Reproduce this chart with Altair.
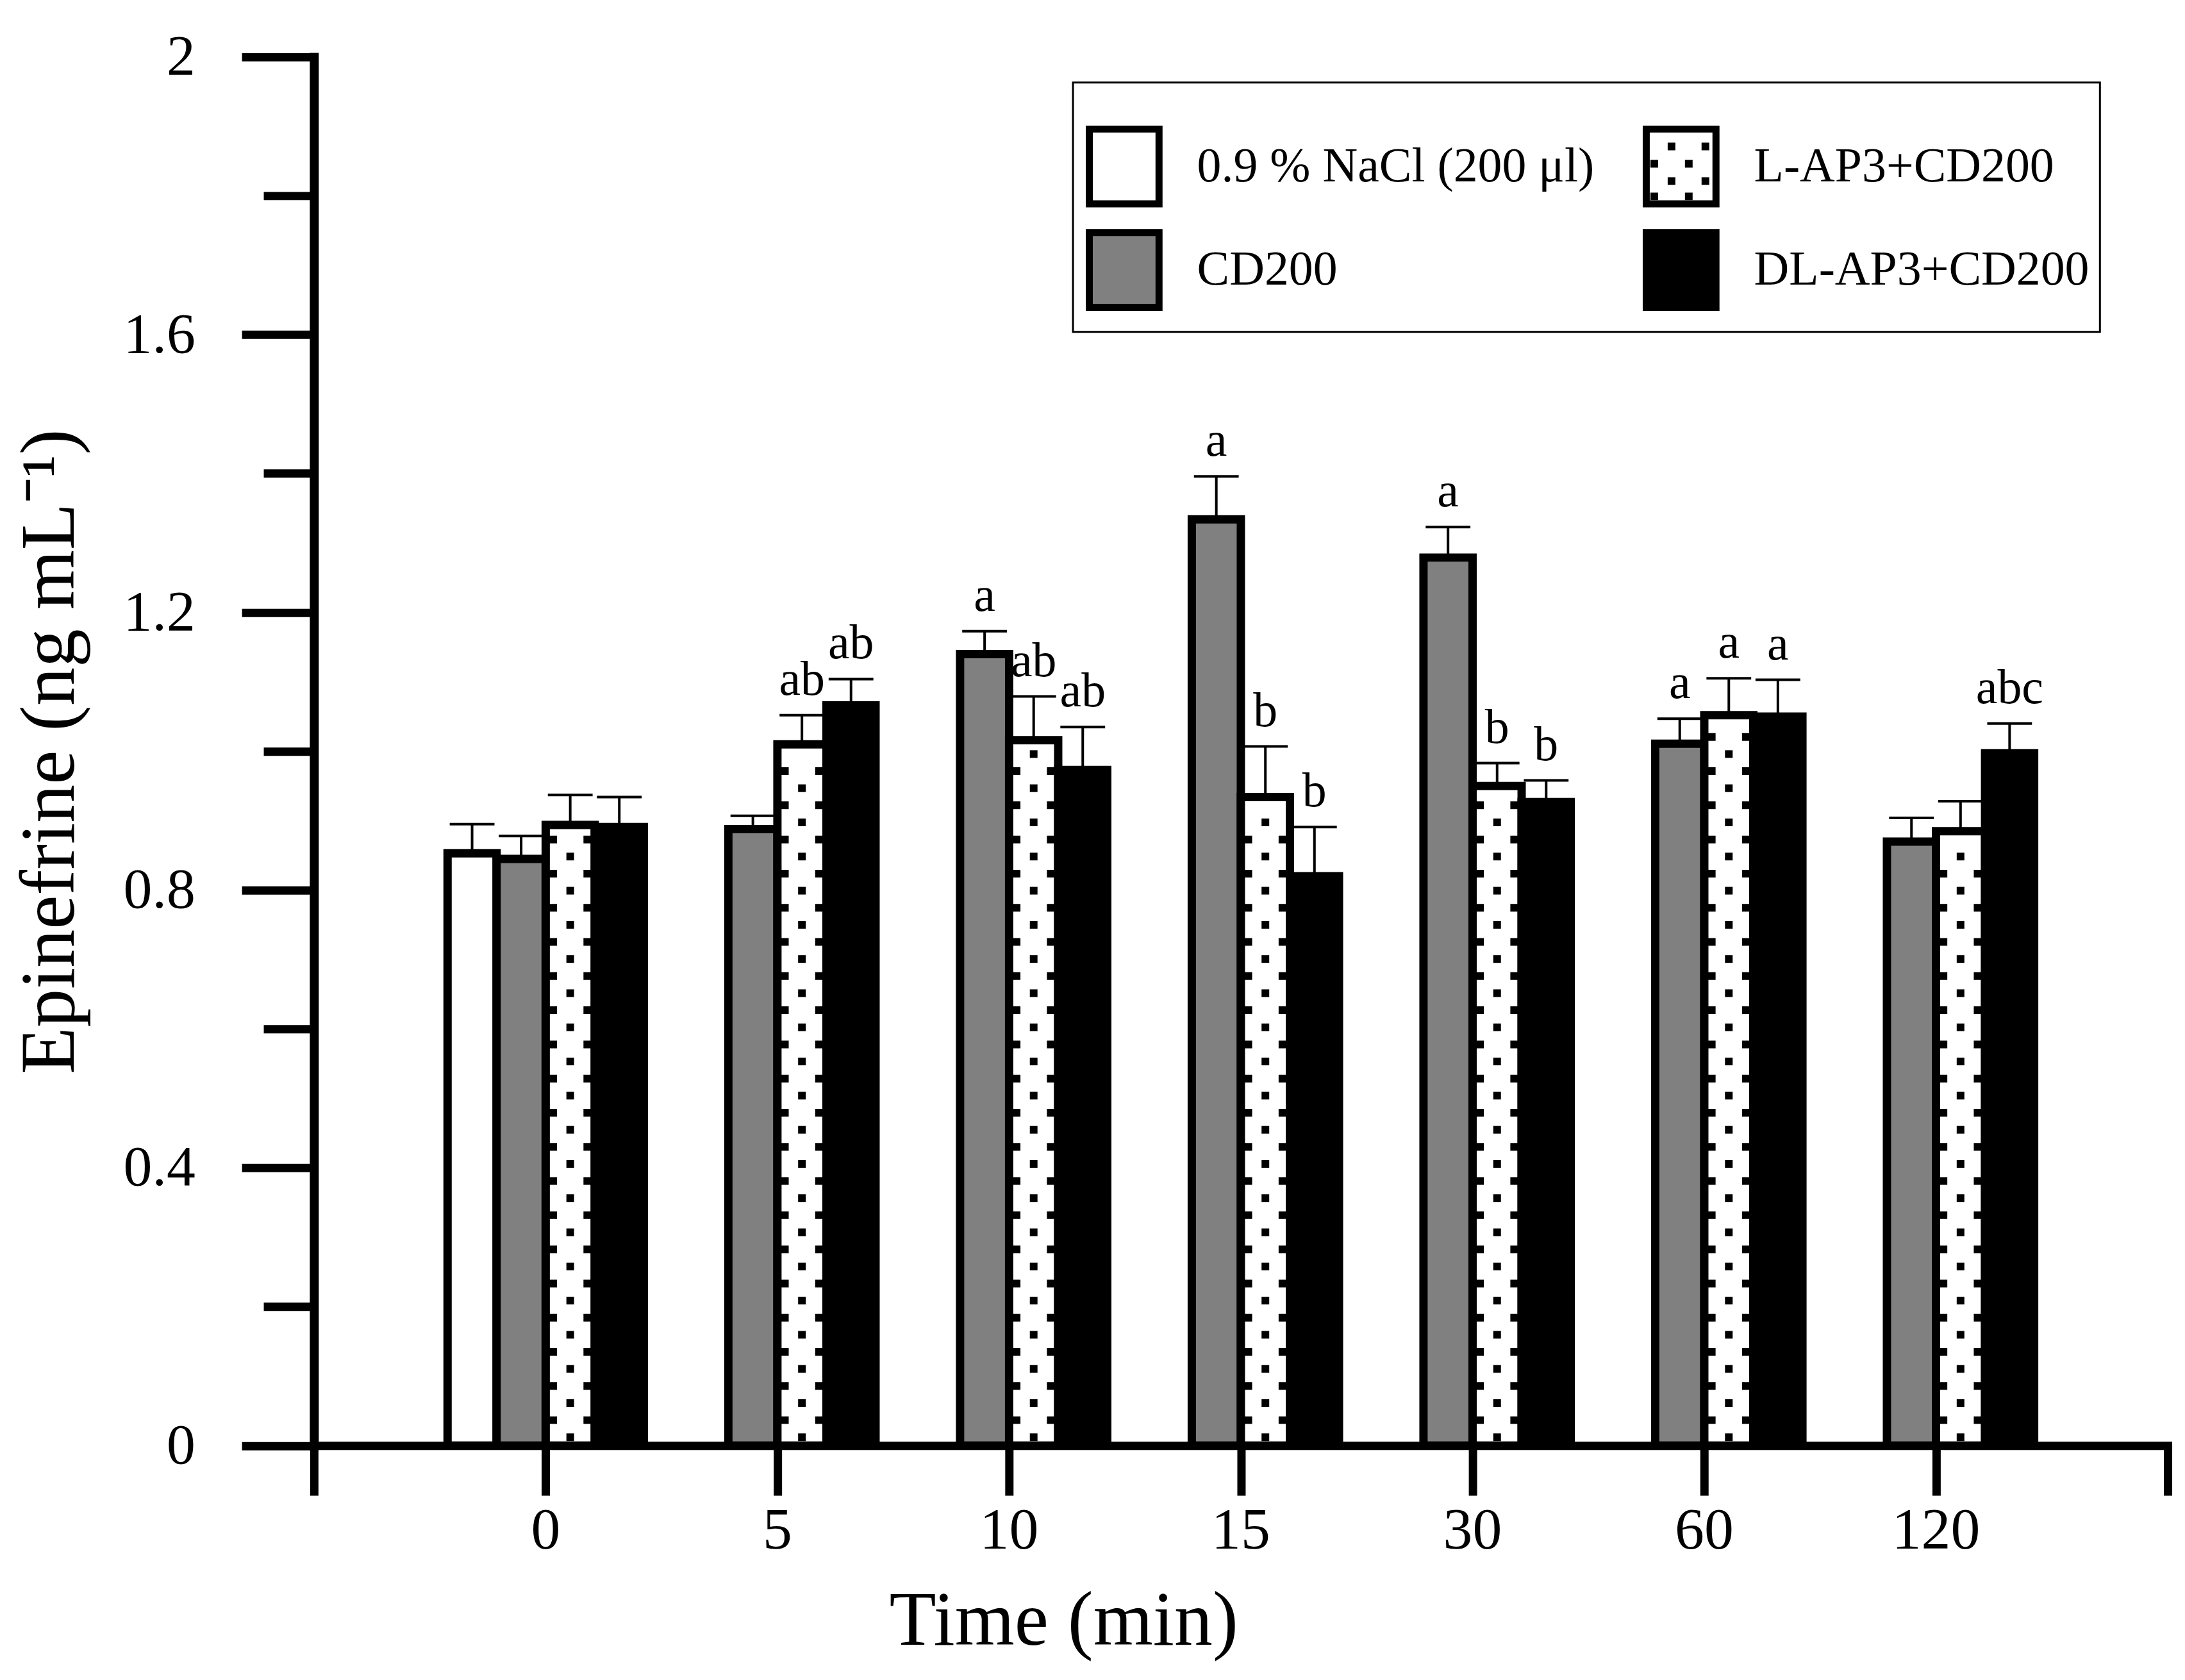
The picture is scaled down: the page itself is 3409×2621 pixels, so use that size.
import altair as alt
import pandas as pd

# ---------------- data ----------------
times = ["0", "5", "10", "15", "30", "60", "120"]
series = ["0.9 % NaCl (200 μl)", "CD200", "L-AP3+CD200", "DL-AP3+CD200"]
series_colors = ["#ffffff", "#808080", "#ffffff", "#000000"]

# bar heights (mean) and top of the error bar (mean + SEM)
nacl_mean = [0.853, None, None, None, None, None, None]
nacl_hi = [0.895, None, None, None, None, None, None]
cd200_mean = [0.845, 0.888, 1.140, 1.334, 1.279, 1.011, 0.870]
cd200_hi = [0.878, 0.907, 1.173, 1.396, 1.323, 1.047, 0.904]
lap3_mean = [0.894, 1.010, 1.016, 0.934, 0.950, 1.052, 0.885]
lap3_hi = [0.937, 1.052, 1.079, 1.007, 0.983, 1.105, 0.928]
dlap3_mean = [0.891, 1.066, 0.973, 0.820, 0.927, 1.050, 0.997]
dlap3_hi = [0.934, 1.104, 1.035, 0.891, 0.958, 1.103, 1.040]

nacl_sig = ["", "", "", "", "", "", ""]
cd200_sig = ["", "", "a", "a", "a", "a", ""]
lap3_sig = ["", "ab", "ab", "b", "b", "a", ""]
dlap3_sig = ["", "ab", "ab", "b", "b", "a", "abc"]

y_ticks = [0, 0.2, 0.4, 0.6, 0.8, 1.0, 1.2, 1.4, 1.6, 1.8, 2.0]

rows = []
for name, means, his, sigs in [
    (series[0], nacl_mean, nacl_hi, nacl_sig),
    (series[1], cd200_mean, cd200_hi, cd200_sig),
    (series[2], lap3_mean, lap3_hi, lap3_sig),
    (series[3], dlap3_mean, dlap3_hi, dlap3_sig),
]:
    for t, m, h, s in zip(times, means, his, sigs):
        if m is None:
            continue
        rows.append({"time": t, "series": name, "mean": m, "hi": h, "sig": s})
df = pd.DataFrame(rows)

FONT = "Liberation Serif"
W, H = 2899, 2171.5

# ---------------- shared encodings ----------------
band_scale = alt.Scale(domain=times, paddingInner=0.153, paddingOuter=0.5765)
hidden_x_axis = alt.Axis(labels=False, ticks=False, domain=False, grid=False, title=None)


def xb(visible=False):
    if visible:
        return alt.X(
            "time:N", scale=band_scale,
            axis=alt.Axis(
                orient="bottom", ticks=False, tickSize=0, domain=False, grid=False,
                labelFont=FONT, labelFontSize=92, labelColor="black",
                labelPadding=88, labelAngle=0,
                title="Time (min)", titleFont=FONT, titleFontSize=120,
                titleFontWeight="normal", titleColor="black",
                titleX=1172, titleY=311, titleBaseline="alphabetic",
                titleAlign="center",
            ),
        )
    return alt.X("time:N", scale=band_scale, axis=hidden_x_axis)


x_off = alt.XOffset(
    "series:N", scale=alt.Scale(domain=series, paddingInner=0, paddingOuter=0)
)
y_scale = alt.Scale(domain=[0, 2], nice=False, zero=True)
MINOR = "round(datum.value * 5) % 2 == 1"
y_axis = alt.Axis(
    orient="left", values=y_ticks, format="~g",
    labelExpr=f"{MINOR} ? '' : datum.label",
    tickSize={"condition": {"test": MINOR, "value": 79}, "value": 113},
    tickWidth=13, tickColor="black",
    domainWidth=14, domainColor="black", domainCap="square",
    labelFont=FONT, labelFontSize=90, labelColor="black", labelPadding=73,
    labelBaseline="middle", grid=False,
    title="Epinefrine (ng  mL⁻¹)", titleFont=FONT, titleFontSize=120,
    titleFontWeight="normal", titleColor="black",
    titleX=-376, titleY=H / 2, titleAngle=270,
    titleBaseline="alphabetic", titleAlign="center",
)


def yq(field):
    return alt.Y(field, scale=y_scale, axis=y_axis, title="Epinefrine (ng  mL⁻¹)")


RECT_PATH = "M-0.932,-1H0.932V1H-0.932Z"


def sq(cx, cy, h=6):
    return f"M{cx - h},{cy - h}H{cx + h}V{cy + h}H{cx - h}Z"


DOT_CENTER = sq(0, 0)
DOT_SIDES = sq(-26.7, 0) + " " + sq(26.7, 0)
legend_dots = [(-8, -31), (45, -31), (-35, -4), (19, -4), (-8, 23), (45, 23),
               (-35, 47), (19, 47)]
LEGEND_DOTS = " ".join(sq(a, b) for a, b in legend_dots)

base = alt.Chart(df)

bars = base.mark_bar(stroke="black", strokeWidth=13, strokeJoin="miter").encode(
    x=xb(True),
    xOffset=x_off,
    y=yq("mean:Q"),
    fill=alt.Fill(
        "series:N",
        scale=alt.Scale(domain=series, range=series_colors),
        legend=alt.Legend(
            orient="none", legendX=1187, legendY=40, columns=2,
            title=" ", titleFontSize=38, titlePadding=13,
            symbolType=RECT_PATH, symbolSize=13689, symbolStrokeWidth=11,
            symbolStrokeColor="black", symbolOpacity=1,
            labelFont=FONT, labelFontSize=76, labelColor="black",
            labelOffset=50, labelLimit=2000,
            columnPadding=58, rowPadding=0, padding=16,
            strokeColor="black", zindex=1,
        ),
    ),
)

dots_center = base.transform_filter(
    alt.datum.series == "L-AP3+CD200"
).transform_calculate(
    d="sequence(0.012, datum.mean - 0.018, 0.0492)"
).transform_flatten(["d"]).mark_point(
    shape=DOT_CENTER, size=4, filled=True, color="black", opacity=1, strokeWidth=0
).encode(x=xb(), xOffset=x_off, y=yq("d:Q"))

dots_sides = base.transform_filter(
    alt.datum.series == "L-AP3+CD200"
).transform_calculate(
    d="sequence(0.0366, datum.mean - 0.018, 0.0492)"
).transform_flatten(["d"]).mark_point(
    shape=DOT_SIDES, size=4, filled=True, color="black", opacity=1, strokeWidth=0
).encode(x=xb(), xOffset=x_off, y=yq("d:Q"))

err_rules = base.mark_rule(color="black", strokeWidth=4).encode(
    x=xb(), xOffset=x_off, y=yq("mean:Q"), y2="hi:Q",
)

caps = base.mark_point(
    shape="M-35,0H35", size=4, filled=False, color="black", opacity=1, strokeWidth=4
).encode(x=xb(), xOffset=x_off, y=yq("hi:Q"))

labels = base.transform_filter(alt.datum.sig != "").mark_text(
    font=FONT, fontSize=76, color="black", baseline="alphabetic", dy=-32
).encode(x=xb(), xOffset=x_off, y=yq("hi:Q"), text="sig:N")

# frame layer: linear x with ticks 0..8 (frame of the original), plus the
# dotted legend swatch overlay
frame = alt.Chart(df).transform_calculate(
    qx="0", k="'dots'"
).mark_point(filled=True, color="black", opacity=0).encode(
    x=alt.X(
        "qx:Q", scale=alt.Scale(domain=[0, 8], nice=False, zero=False),
        axis=alt.Axis(
            orient="bottom", values=list(range(9)), labels=False,
            tickSize=78, tickWidth=13, tickColor="black",
            domainWidth=13, domainColor="black", domainCap="square",
            grid=False, title=None,
        ),
    ),
    y=alt.value(0),
    shape=alt.Shape(
        "k:N",
        scale=alt.Scale(domain=["dots"], range=[LEGEND_DOTS]),
        legend=alt.Legend(
            orient="none", legendX=2130, legendY=170, title=None,
            labelExpr="''", labelFontSize=1, padding=0,
            symbolSize=4, symbolStrokeWidth=0, symbolOpacity=1,
            symbolFillColor="black", zindex=2,
        ),
    ),
)

chart = alt.layer(
    bars, dots_center, dots_sides, err_rules, caps, labels, frame
).resolve_scale(
    x="independent"
).properties(
    width=W, height=H,
    padding={"left": 483, "top": 78, "right": 19, "bottom": 356},
    autosize=alt.AutoSizeParams(type="none"),
    background="white",
).configure_view(stroke=None).configure_legend(strokeWidth=3)

chart.save("out.html", embed_options={"renderer": "svg", "actions": False})
